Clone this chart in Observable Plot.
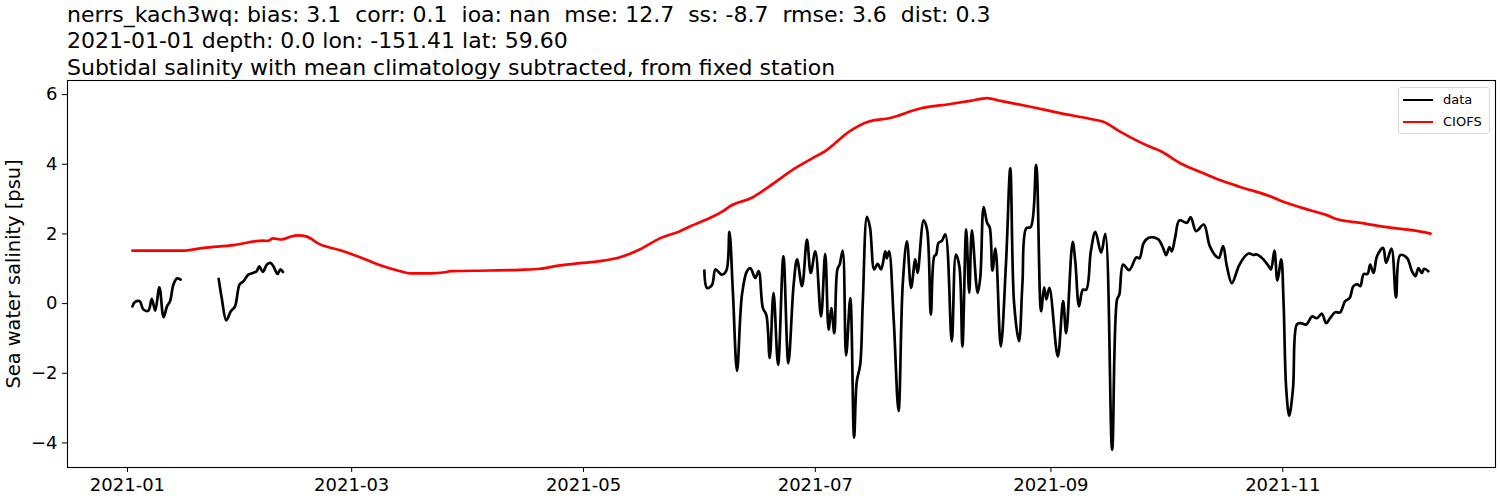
<!DOCTYPE html>
<html>
<head>
<meta charset="utf-8">
<script src="https://cdn.jsdelivr.net/npm/d3@7"></script>
<script src="https://cdn.jsdelivr.net/npm/@observablehq/plot@0.6"></script>
<style>
  html, body { margin: 0; padding: 0; background: white; }
  #wrap { position: relative; width: 1500px; height: 500px; font-family: "DejaVu Sans", sans-serif; }
  .title { position: absolute; left: 67px; font-size: 22px; line-height: 26.5px; white-space: pre; color: black; }
  #legend { position: absolute; left: 1398px; top: 87px; width: 90px; height: 45px; border: 1px solid #d6d6d6; border-radius: 3px; background: rgba(255,255,255,0.8); font-size: 13px; }
  .item { position: absolute; left: 0; height: 16px; }
  .swatch { position: absolute; left: 4px; width: 30px; height: 0; border-top: 2.7px solid black; }
  .lab { position: absolute; left: 44px; line-height: 16px; white-space: pre; }
</style>
</head>
<body>
<div id="wrap"></div>
<script>
// ---- data (days since 2021-01-01, value in psu) ----
const titleLines = [
  "nerrs_kach3wq: bias: 3.1  corr: 0.1  ioa: nan  mse: 12.7  ss: -8.7  rmse: 3.6  dist: 0.3",
  "2021-01-01 depth: 0.0 lon: -151.41 lat: 59.60",
  "Subtidal salinity with mean climatology subtracted, from fixed station"
];
const yLabel = "Sea water salinity [psu]";
const seriesNames = ["data", "CIOFS"];
const seriesColors = ["black", "red"];
const xTickLabels = ["2021-01", "2021-03", "2021-05", "2021-07", "2021-09", "2021-11"];
const yTicks = [-4, -2, 0, 2, 4, 6];

const obsJan = [[1.3,-0.08],[2,0.05],[3.2,0.07],[4.2,-0.17],[5.5,-0.2],[6.4,0.14],[7.3,-0.2],[8.4,0.47],[9.5,-0.39],[10.4,-0.08],[11.2,0.07],[12.1,0.55],[13,0.72],[14,0.69]];
const obsFeb = [[24,0.71],[24.8,0.16],[26,-0.48],[27.2,-0.22],[28.3,-0.08],[29.5,0.55],[30.5,0.64],[31.8,0.83],[33,0.88],[34,0.93],[34.7,1.07],[35.6,0.91],[36.7,1.12],[37.6,1.17],[38.4,1.07],[39.5,0.85],[40.2,0.98],[40.9,0.91]];
const obsJunDec = [
  [151.8,0.95],[152.5,0.45],[153.8,0.53],[154.7,0.98],[155.8,0.88],[156.4,0.83],[157.6,0.95],[158.4,2.06],[159.3,0.35],[160.4,-1.93],
  [161.7,0.26],[163.0,0.93],[163.9,1.02],[165.2,0.74],[166.1,0.93],[167.2,-0.13],[168.1,-0.32],[169.0,-1.56],[170.0,0.31],[171.2,-1.76],
  [172.6,1.36],[173.9,-1.71],[175.3,0.55],[176.2,1.27],[177.5,0.5],[178.8,1.84],[179.8,0.88],[181.0,1.5],[182.5,-0.37],[183.6,1.43],
  [184.5,-0.75],[185.2,-0.13],[186.0,-0.85],[186.8,0.98],[187.4,1.12],[188.2,1.52],[189.1,-1.49],[190.2,0.16],[191.2,-3.85],[191.9,-2.24],
  [192.8,-1.76],[193.5,0.07],[194.6,2.49],[195.4,2.18],[196.5,0.98],[197.4,1.14],[198.3,0.98],[199.4,1.5],[199.8,1.3],[200.4,1.5],
  [201.6,-0.41],[202.9,-3.08],[204.0,0.55],[205.1,1.79],[206.2,0.45],[207.3,1.27],[207.9,0.88],[209.5,2.39],[210.4,2.13],[211.4,-0.32],
  [212.3,1.36],[212.8,1.41],[213.4,1.74],[214.3,1.8],[215.2,1.99],[216.9,-1.08],[218.0,1.41],[218.9,1.07],[219.7,-1.23],[220.7,2.13],
  [221.5,0.31],[222.2,2.1],[223.7,0.31],[224.4,0.74],[225.3,2.77],[226.2,2.32],[226.9,2.18],[227.6,0.95],[228.4,1.58],[229.8,-1.23],
  [231.2,1.22],[232.3,3.88],[233.3,0.02],[234.6,-1.08],[235.5,0.59],[236.5,2.16],[237.7,2.2],[239.1,3.98],[240.4,-0.22],[241.2,0.47],
  [241.8,0.12],[242.6,0.45],[244.8,-1.52],[246.2,0.07],[247.0,-0.85],[248.7,1.77],[249.4,1.22],[250.4,-0.08],[251.4,0.4],[252.3,0.4],
  [253.5,1.5],[254.7,2.06],[256.2,1.46],[257.3,2.0],[259.1,-4.2],[260.4,0.12],[261.0,0.26],[262.0,1.12],[263.6,0.96],[265.5,1.33],
  [266.3,1.3],[267.4,1.74],[268.7,1.89],[270.0,1.9],[271.3,1.84],[272.5,1.6],[273.3,1.39],[274.2,1.62],[274.8,1.5],[275.7,1.91],
  [276.8,2.39],[278.8,2.32],[279.8,2.48],[281.2,2.08],[283.2,2.27],[284.8,1.65],[286.5,1.35],[287.2,1.31],[288.3,1.65],[289.3,1.07],
  [290.6,0.59],[292.4,1.07],[293.7,1.31],[295.0,1.44],[296.2,1.40],[297.2,1.41],[298.9,1.27],[300.3,1.07],[300.9,0.98],[301.8,1.52],[302.6,0.66],
  [303.6,1.27],[304.2,0.07],[304.9,-2.43],[305.7,-3.22],[306.7,-2.43],[307.7,-0.6],[308.6,-0.56],[310.2,-0.6],[311.7,-0.37],[313.0,-0.42],
  [314.3,-0.29],[315.4,-0.56],[316.5,-0.41],[317.8,-0.25],[319.1,-0.25],[320.4,0.07],[321.6,0.16],[322.6,0.5],[323.7,0.55],[324.4,0.5],
  [325.3,0.85],[326.3,0.85],[327.0,1.12],[327.9,0.88],[328.8,1.36],[330.4,1.6],[331.2,1.17],[332.6,1.58],[333.8,0.18],[334.9,1.39],
  [336.7,1.31],[338.0,0.93],[338.9,0.79],[339.7,1.02],[340.6,0.88],[341.2,1.0],[342.3,0.93]
];
const ciofs = [
  [1.3,1.52],[14.3,1.52],[20,1.6],[28,1.68],[35.7,1.81],[37,1.80],[38.3,1.87],[40.6,1.84],[42.8,1.92],[45,1.96],[47,1.93],[50.7,1.70],
  [56,1.53],[61.2,1.33],[66.5,1.1],[71.8,0.93],[74.4,0.87],[79.6,0.87],[83.6,0.9],[85,0.93],[95.4,0.95],[103.3,0.97],[108.6,1.0],
  [113.9,1.1],[119.1,1.16],[124.4,1.22],[129.6,1.33],[134.9,1.56],[140.2,1.88],[145.4,2.08],[148.1,2.22],[152.5,2.42],[156.8,2.66],
  [158.6,2.8],[164.3,3.04],[169.1,3.38],[175.3,3.86],[180.5,4.19],[183.6,4.38],[190.2,4.96],[194.9,5.22],[200.7,5.33],[208.6,5.6],
  [216.5,5.73],[221.7,5.82],[226.2,5.9],[229.7,5.82],[237.6,5.65],[245.4,5.47],[253.4,5.3],[256.8,5.22],[261.3,4.93],[269.1,4.5],
  [271.8,4.38],[277,4.03],[282.3,3.78],[287.6,3.54],[292.8,3.35],[300.7,3.08],[303.8,2.94],[311.2,2.68],[315.6,2.54],[318.3,2.42],
  [324.4,2.32],[332.3,2.18],[338.4,2.1],[342.9,2.01]
];

// ---- build ----
const t0 = Date.UTC(2021, 0, 1);
const toDate = d => new Date(t0 + d * 864e5);
const obsRows = [obsJan, obsFeb, obsJunDec].flatMap((seg, i) => seg.map(([d, v]) => ({date: toDate(d), value: v, seg: i})));
const modRows = ciofs.map(([d, v]) => ({date: toDate(d), value: v}));
const all = obsRows.concat(modRows);

const xExt = d3.extent(all, r => +r.date);
const xPad = 0.05 * (xExt[1] - xExt[0]);
const yExt = d3.extent(all, r => r.value);
const yPad = 0.05 * (yExt[1] - yExt[0]);
const parseMonth = d3.utcParse("%Y-%m");
const xTicks = xTickLabels.map(parseMonth);
const fmtY = d => (d < 0 ? "\u2212" + Math.abs(d) : String(d));

const chart = Plot.plot({
  width: 1500,
  height: 500,
  marginTop: 80,
  marginBottom: 33,
  marginLeft: 67,
  marginRight: 5,
  style: {fontFamily: "DejaVu Sans", background: "white", color: "black", overflow: "visible"},
  x: {type: "utc", domain: [new Date(xExt[0] - xPad), new Date(xExt[1] + xPad)]},
  y: {domain: [yExt[0] - yPad, yExt[1] + yPad]},
  marks: [
    Plot.line(modRows, {x: "date", y: "value", stroke: seriesColors[1], strokeWidth: 2.7, curve: "monotone-x"}),
    Plot.line(obsRows, {x: "date", y: "value", z: "seg", stroke: seriesColors[0], strokeWidth: 2.7, curve: "catmull-rom"}),
    Plot.frame({stroke: "black", strokeWidth: 1.1}),
    Plot.axisX({ticks: xTicks, tickFormat: d3.utcFormat("%Y-%m"), fontSize: 18, tickSize: 5, tickPadding: 6, label: null}),
    Plot.axisY({ticks: yTicks, tickFormat: fmtY, fontSize: 18, tickSize: 5, tickPadding: 5, label: null}),
    Plot.text([yLabel], {text: d => d, frameAnchor: "left", textAnchor: "middle", lineAnchor: "middle", rotate: -90, dx: -54, fontSize: 19.4, fill: "black"})
  ]
});

const wrap = document.getElementById("wrap");
wrap.appendChild(chart);
titleLines.forEach((t, i) => {
  const div = document.createElement("div");
  div.className = "title";
  div.style.top = (1.5 + i * 26.7) + "px";
  div.textContent = t;
  wrap.appendChild(div);
});
const legend = document.createElement("div");
legend.id = "legend";
seriesNames.forEach((name, i) => {
  const item = document.createElement("div");
  item.className = "item";
  item.style.top = (4 + i * 22) + "px";
  const sw = document.createElement("div");
  sw.className = "swatch";
  sw.style.top = "7px";
  sw.style.borderTopColor = seriesColors[i];
  const lab = document.createElement("div");
  lab.className = "lab";
  lab.textContent = name;
  item.appendChild(sw);
  item.appendChild(lab);
  legend.appendChild(item);
});
wrap.appendChild(legend);
</script>
</body>
</html>
